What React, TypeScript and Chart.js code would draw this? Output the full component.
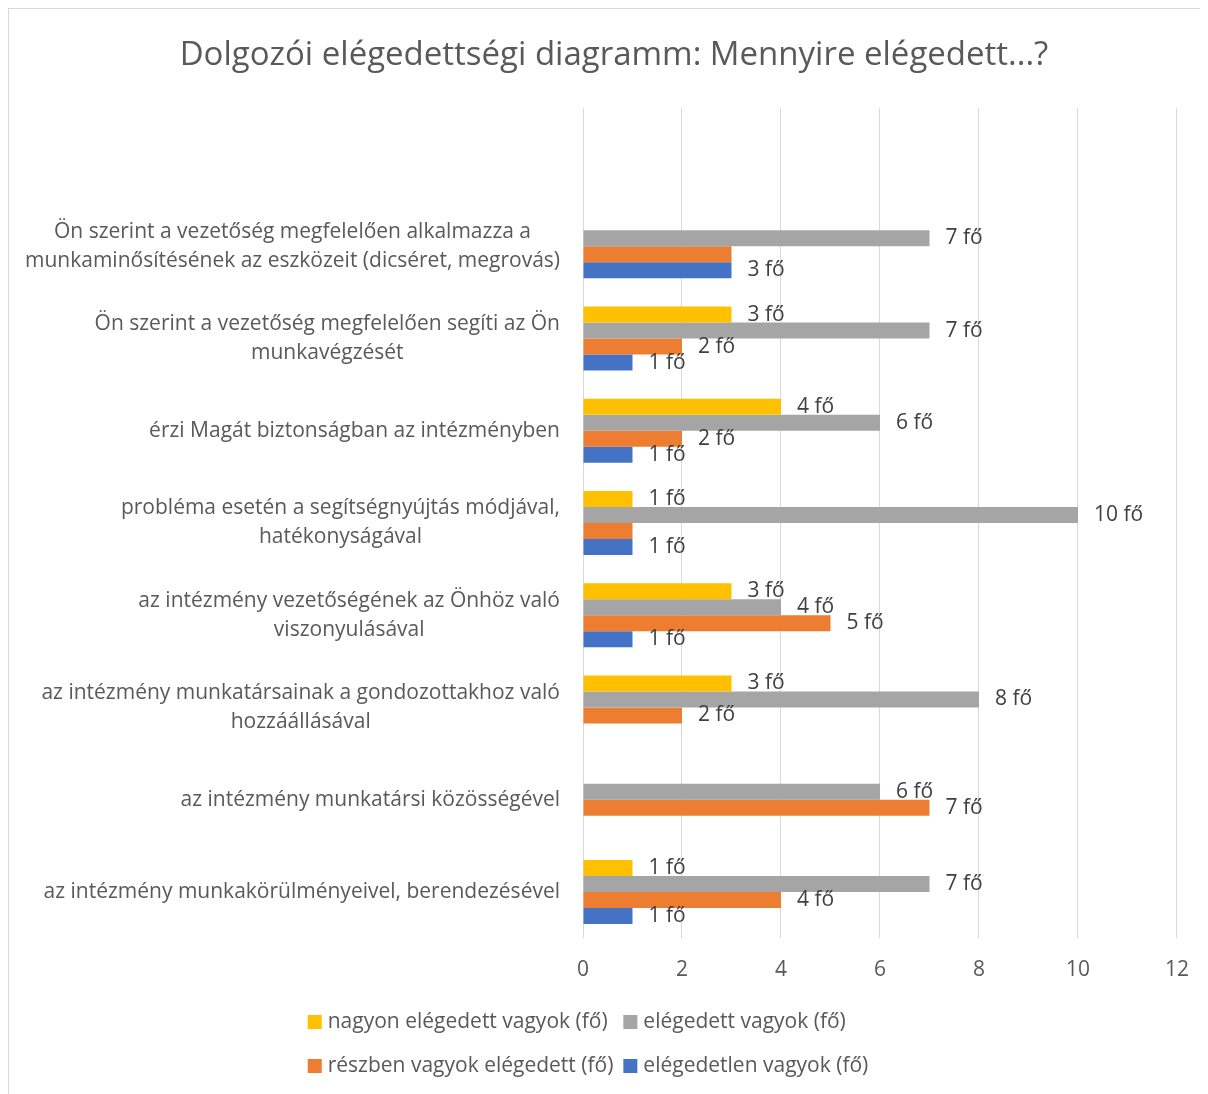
import React, { useEffect, useRef } from "react";
import { Chart, registerables } from "chart.js";

Chart.register(...registerables);

const TITLE = "Dolgozói elégedettségi diagramm: Mennyire elégedett...?";
const UNIT = "fő";

// Categories, top to bottom (first one is an empty row in the original chart)
const categories: string[][] = [
  [""],
  ["Ön szerint a vezetőség megfelelően alkalmazza a", "munkaminősítésének az eszközeit (dicséret, megrovás)"],
  ["Ön szerint a vezetőség megfelelően segíti az Ön", "munkavégzését"],
  ["érzi Magát biztonságban az intézményben"],
  ["probléma esetén a segítségnyújtás módjával,", "hatékonyságával"],
  ["az intézmény vezetőségének az Önhöz való", "viszonyulásával"],
  ["az intézmény munkatársainak a gondozottakhoz való", "hozzáállásával"],
  ["az intézmény munkatársi közösségével"],
  ["az intézmény munkakörülményeivel, berendezésével"],
];

const seriesNames = [
  "nagyon elégedett vagyok (fő)",
  "elégedett vagyok (fő)",
  "részben vagyok elégedett (fő)",
  "elégedetlen vagyok (fő)",
];

const nagyonElegedett = [null, 0, 3, 4, 1, 3, 3, 0, 1];
const elegedett = [null, 7, 7, 6, 10, 4, 8, 6, 7];
const reszbenElegedett = [null, 3, 2, 2, 1, 5, 2, 7, 4];
const elegedetlen = [null, 3, 1, 1, 1, 1, 0, 0, 1];

const seriesColors = ["#FFC000", "#A5A5A5", "#ED7D31", "#4472C4"];

// data labels hidden in the original (overlapping): [series index, category index]
const hiddenLabels: [number, number][] = [
  [2, 1],
  [2, 4],
];

const xMin = 0;
const xMax = 12;
const xStep = 2;

const FONT = "'Open Sans', sans-serif";
const TEXT = "#595959";
const LABEL_TEXT = "#404040";

const overlayPlugin = {
  id: "overlay",
  afterDraw(chart: any) {
    const ctx: CanvasRenderingContext2D = chart.ctx;
    const area = chart.chartArea;
    ctx.save();

    // Title
    ctx.fillStyle = TEXT;
    ctx.font = `33px ${FONT}`;
    ctx.textAlign = "center";
    ctx.textBaseline = "middle";
    ctx.fillText(TITLE, 605, 47);

    // Category labels (right aligned block, lines centered within block)
    const yScale = chart.scales.y;
    ctx.font = `21px ${FONT}`;
    const lineH = 29;
    const rightEdge = area.left - 23;
    categories.forEach((lines, i) => {
      const cy = yScale.getPixelForValue(i);
      const widths = lines.map((l) => ctx.measureText(l).width);
      const maxW = Math.max(...widths);
      const cx = rightEdge - maxW / 2;
      const startY = cy - ((lines.length - 1) * lineH) / 2;
      ctx.textAlign = "center";
      ctx.textBaseline = "middle";
      lines.forEach((l, j) => ctx.fillText(l, cx, startY + j * lineH));
    });

    // Data labels
    ctx.fillStyle = LABEL_TEXT;
    ctx.textAlign = "left";
    ctx.textBaseline = "middle";
    chart.data.datasets.forEach((ds: any, di: number) => {
      const meta = chart.getDatasetMeta(di);
      meta.data.forEach((bar: any, i: number) => {
        const v = ds.data[i];
        if (v == null || v === 0) return;
        if (hiddenLabels.some(([s, c]) => s === di && c === i)) return;
        ctx.fillText(`${v} ${UNIT}`, bar.x + 16, bar.y);
      });
    });

    // Legend: 2 columns x 2 rows
    ctx.font = `21px ${FONT}`;
    const box = 14;
    const boxGap = 6;
    const colGap = 10;
    const rows = [
      [0, 1],
      [2, 3],
    ];
    const colW = [0, 0];
    rows.forEach((r) =>
      r.forEach((si, c) => {
        const w = box + boxGap + ctx.measureText(seriesNames[si]).width;
        colW[c] = Math.max(colW[c], w);
      })
    );
    const total = colW[0] + colGap + colW[1];
    const left = 579 - total / 2;
    const rowY = [1013, 1057];
    rows.forEach((r, ri) =>
      r.forEach((si, c) => {
        const x = left + (c === 0 ? 0 : colW[0] + colGap);
        const y = rowY[ri];
        ctx.fillStyle = seriesColors[si];
        ctx.fillRect(x, y - box / 2, box, box);
        ctx.fillStyle = TEXT;
        ctx.textAlign = "left";
        ctx.textBaseline = "middle";
        ctx.fillText(seriesNames[si], x + box + boxGap, y);
      })
    );

    ctx.restore();
  },
};

export default function App() {
  const ref = useRef<HTMLCanvasElement | null>(null);

  useEffect(() => {
    if (!ref.current) return;
    const seriesData = [nagyonElegedett, elegedett, reszbenElegedett, elegedetlen];
    const chart = new Chart(ref.current, {
      type: "bar",
      data: {
        labels: categories.map((c) => c.join(" ")),
        datasets: seriesData.map((d, i) => ({
          label: seriesNames[i],
          data: d as any,
          backgroundColor: seriesColors[i],
          borderWidth: 0,
          categoryPercentage: 0.694,
          barPercentage: 1,
        })),
      },
      options: {
        indexAxis: "y",
        animation: false,
        responsive: true,
        maintainAspectRatio: false,
        layout: { padding: { top: 99, right: 31, bottom: 96, left: 0 } },
        plugins: {
          legend: { display: false },
          title: { display: false },
          tooltip: { enabled: false },
        },
        scales: {
          x: {
            type: "linear",
            position: "bottom",
            min: xMin,
            max: xMax,
            ticks: {
              stepSize: xStep,
              color: TEXT,
              font: { family: FONT, size: 21 },
              padding: 19,
            },
            grid: { color: "#D9D9D9", lineWidth: 1, drawTicks: false },
            border: { display: false },
            afterFit: (s: any) => {
              s.height = 60;
            },
          },
          y: {
            type: "category",
            ticks: { display: false },
            grid: { display: false, drawTicks: false },
            border: { display: false },
            afterFit: (s: any) => {
              s.width = 574;
            },
          },
        },
      },
      plugins: [overlayPlugin],
    });
    return () => chart.destroy();
  }, []);

  return (
    <div
      style={{
        width: 1199,
        height: 1085,
        position: "relative",
        borderTop: "1px solid #D9D9D9",
        borderLeft: "1px solid #D9D9D9",
        background: "#FFFFFF",
      }}
    >
      <canvas ref={ref} />
    </div>
  );
}
